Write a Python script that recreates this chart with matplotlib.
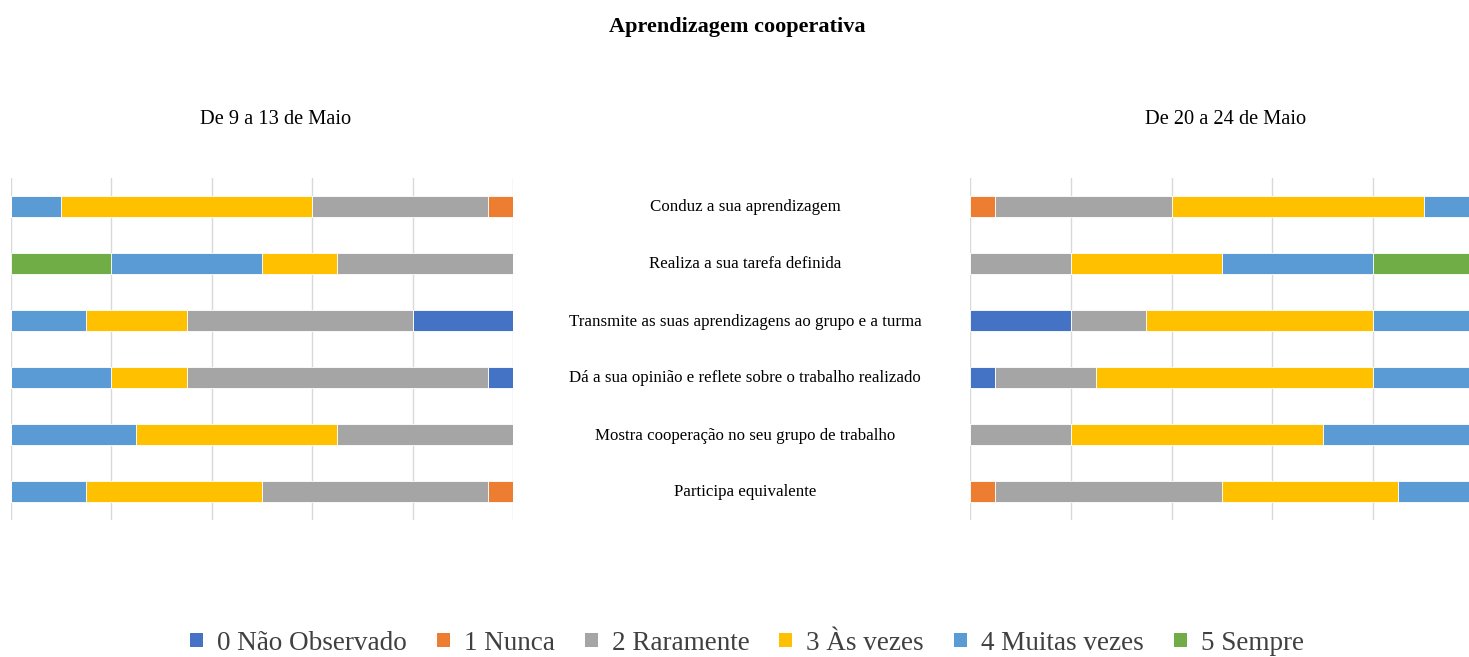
import numpy as np
import matplotlib
matplotlib.use("Agg")
import matplotlib.pyplot as plt
from matplotlib.patches import Patch

plt.rcParams['font.family'] = ['Liberation Serif', 'DejaVu Serif']

# --- Data (percent of students per level) ---
categories = [
    "Conduz a sua aprendizagem",
    "Realiza a sua tarefa definida",
    "Transmite as suas aprendizagens ao grupo e a turma",
    "Dá a sua opinião e reflete sobre o trabalho realizado",
    "Mostra cooperação no seu grupo de trabalho",
    "Participa equivalente",
]
levels = ["0 Não Observado", "1 Nunca", "2 Raramente", "3 Às vezes", "4 Muitas vezes", "5 Sempre"]
colors = ["#4472C4", "#ED7D31", "#A5A5A5", "#FFC000", "#5B9BD5", "#70AD47"]

# De 9 a 13 de Maio
w1_nao_obs = [0, 0, 20, 5, 0, 0]
w1_nunca = [5, 0, 0, 0, 0, 5]
w1_raramente = [35, 35, 45, 60, 35, 45]
w1_as_vezes = [50, 15, 20, 15, 40, 35]
w1_muitas = [10, 30, 15, 20, 25, 15]
w1_sempre = [0, 20, 0, 0, 0, 0]

# De 20 a 24 de Maio
w2_nao_obs = [0, 0, 20, 5, 0, 0]
w2_nunca = [5, 0, 0, 0, 0, 5]
w2_raramente = [35, 20, 15, 20, 20, 45]
w2_as_vezes = [50, 30, 45, 55, 50, 35]
w2_muitas = [10, 30, 20, 20, 30, 15]
w2_sempre = [0, 20, 0, 0, 0, 0]

week1 = [w1_nao_obs, w1_nunca, w1_raramente, w1_as_vezes, w1_muitas, w1_sempre]
week2 = [w2_nao_obs, w2_nunca, w2_raramente, w2_as_vezes, w2_muitas, w2_sempre]

W, H = 1469, 657
fig = plt.figure(figsize=(W / 100, H / 100), dpi=100)

ax_bottom = 1 - 520 / H
ax_height = 342 / H
ax1 = fig.add_axes([11 / W, ax_bottom, 502 / W, ax_height])
ax2 = fig.add_axes([970 / W, ax_bottom, 504 / W, ax_height])

y = np.arange(len(categories))

def draw(ax, week):
    left = np.zeros(len(categories))
    for vals, col in zip(week, colors):
        vals = np.array(vals, dtype=float)
        ax.barh(y, vals, left=left, height=0.37, color=col,
                edgecolor="white", linewidth=0.6, zorder=3)
        left += vals
    ax.set_xlim(0, 100)
    ax.set_ylim(5.5, -0.5)
    ax.set_xticks(np.arange(0, 101, 20))
    ax.set_yticks([])
    ax.tick_params(axis="x", length=0, labelbottom=False)
    ax.grid(axis="x", color="#D9D9D9", linewidth=1, zorder=0)
    for s in ax.spines.values():
        s.set_visible(False)

draw(ax1, week1)
ax1.invert_xaxis()
draw(ax2, week2)

# category labels in the middle
for i, cat in enumerate(categories):
    yf = ax_bottom + ax_height * (5.5 - i) / 6
    fig.text(745 / W, yf - 1 / H, cat, ha="center", va="center", fontsize=12.2)

fig.text(737 / W, 1 - 27 / H, "Aprendizagem cooperativa", ha="center", va="center",
         fontsize=16, fontweight="bold")
fig.text(276 / W, 1 - 119 / H, "De 9 a 13 de Maio", ha="center", va="center", fontsize=14.7)
fig.text(1226 / W, 1 - 119 / H, "De 20 a 24 de Maio", ha="center", va="center", fontsize=14.7)

handles = [Patch(facecolor=c, edgecolor="none") for c in colors]
fig.legend(handles, levels, loc="center", bbox_to_anchor=(747 / W, 1 - 643 / H),
           ncol=6, frameon=False, fontsize=19.5, handlelength=0.48, handleheight=0.45,
           handletextpad=0.52, columnspacing=1.1, labelcolor="#404040")

fig.savefig("out.png", dpi=100)
